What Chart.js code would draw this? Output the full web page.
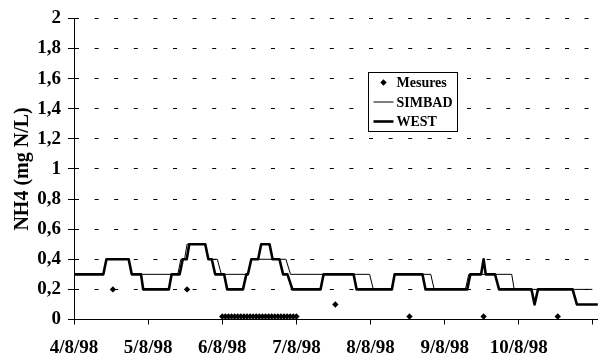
<!DOCTYPE html>
<html>
<head>
<meta charset="utf-8">
<script src="https://cdn.jsdelivr.net/npm/chart.js@4.4.0/dist/chart.umd.min.js"></script>
<style>
  html, body { margin: 0; padding: 0; background: #fff; }
  canvas { display: block; }
</style>
</head>
<body>
<canvas id="nh4" width="605" height="361"></canvas>
<script>
// Time is expressed in hours since 4/8/98 00:00.
const dayTicks = [0, 24, 48, 72, 96, 120, 144, 168];
const dayLabels = ['4/8/98', '5/8/98', '6/8/98', '7/8/98', '8/8/98', '9/8/98', '10/8/98', ''];
const yTickLabels = ['0', '0,2', '0,4', '0,6', '0,8', '1', '1,2', '1,4', '1,6', '1,8', '2'];

// Measured NH4 (mg N/L)
const mesuresHours = [12.6, 36.6,
  48, 49, 50, 51, 52, 53, 54, 55, 56, 57, 58, 59, 60, 61, 62, 63, 64, 65, 66, 67, 68, 69, 70, 71, 72,
  84.6, 108.6, 132.6, 156.6];
const mesuresValues = [0.2, 0.2,
  0.02, 0.02, 0.02, 0.02, 0.02, 0.02, 0.02, 0.02, 0.02, 0.02, 0.02, 0.02, 0.02, 0.02, 0.02, 0.02, 0.02,
  0.02, 0.02, 0.02, 0.02, 0.02, 0.02, 0.02, 0.02,
  0.1, 0.02, 0.02, 0.02];

// SIMBAD simulation (corner points of the stepped curve)
const simbadHours = [0, 9.5, 10.5, 17.7, 18.7, 33.6, 34.6, 35.8, 36.6, 42.5, 43.5, 46.4, 47.7, 56.3,
  57.4, 68.6, 70.1, 95.7, 96.9, 102.9, 103.8, 115.5, 116.6, 126.7, 127.8, 141.7, 142.5, 167.8];
const simbadValues = [0.3, 0.3, 0.4, 0.4, 0.3, 0.3, 0.4, 0.4, 0.5, 0.5, 0.4, 0.4, 0.3, 0.3,
  0.4, 0.4, 0.3, 0.3, 0.2, 0.2, 0.3, 0.3, 0.2, 0.2, 0.3, 0.3, 0.2, 0.2];

// WEST simulation (corner points of the stepped curve)
const westHours = [0, 9.5, 10.5, 17.7, 18.7, 21.7, 22.4, 30.7, 31.6, 34.2, 35.2, 36.5, 37.3, 42.5,
  43.5, 44.6, 45.7, 48.6, 49.6, 54.7, 55.8, 56.3, 57.4, 59.6, 60.6, 63.3, 64.3, 66.5, 67.7, 69.1,
  70.7, 79.8, 80.8, 90.5, 91.5, 102.9, 103.8, 112.8, 113.8, 127.3, 128.3, 131.8, 132.6, 133.3,
  136.3, 137.6, 148.1, 149.1, 150.2, 161.4, 162.8, 169.6];
const westValues = [0.3, 0.3, 0.4, 0.4, 0.3, 0.3, 0.2, 0.2, 0.3, 0.3, 0.4, 0.4, 0.5, 0.5,
  0.4, 0.4, 0.3, 0.3, 0.2, 0.2, 0.3, 0.3, 0.4, 0.4, 0.5, 0.5, 0.4, 0.4, 0.3, 0.3,
  0.2, 0.2, 0.3, 0.3, 0.2, 0.2, 0.3, 0.3, 0.2, 0.2, 0.3, 0.3, 0.4, 0.3,
  0.3, 0.2, 0.2, 0.1, 0.2, 0.2, 0.1, 0.1];

const toPoints = (xs, ys) => xs.map((x, i) => ({ x: x, y: ys[i] }));

const SERIF = "'Liberation Serif', 'Times New Roman', serif";

// Boxed legend drawn inside the plot area
const boxedLegend = {
  id: 'boxedLegend',
  afterDraw(chart) {
    const ctx = chart.ctx;
    const left = 368.5, top = 72.5, w = 89, h = 59;
    ctx.save();
    ctx.fillStyle = '#fff';
    ctx.fillRect(left, top, w, h);
    ctx.strokeStyle = '#000';
    ctx.lineWidth = 1;
    ctx.strokeRect(left, top, w, h);
    ctx.font = 'bold 14px ' + SERIF;
    ctx.textBaseline = 'middle';
    ctx.textAlign = 'left';
    chart.data.datasets.forEach((ds, i) => {
      const y = top + 10 + i * 19.5;
      if (ds.showLine) {
        ctx.strokeStyle = ds.borderColor;
        ctx.lineWidth = ds.borderWidth;
        ctx.beginPath();
        ctx.moveTo(left + 5, y);
        ctx.lineTo(left + 25, y);
        ctx.stroke();
      } else {
        Chart.helpers.drawPoint(ctx, {
          pointStyle: ds.pointStyle, radius: ds.pointRadius, borderWidth: 0
        }, left + 15, y);
        ctx.fillStyle = ds.backgroundColor;
        ctx.fill();
      }
      ctx.fillStyle = '#000';
      ctx.fillText(ds.label, left + 28, y + 1);
    });
    ctx.restore();
  }
};

new Chart(document.getElementById('nh4'), {
  type: 'scatter',
  data: {
    datasets: [
      {
        label: 'Mesures',
        data: toPoints(mesuresHours, mesuresValues),
        showLine: false,
        pointStyle: 'rectRot',
        pointRadius: 3.2,
        pointBorderWidth: 0,
        backgroundColor: '#000',
        borderColor: '#000'
      },
      {
        label: 'SIMBAD',
        data: toPoints(simbadHours, simbadValues),
        showLine: true,
        borderColor: '#000',
        borderWidth: 1,
        borderJoinStyle: 'round',
        pointRadius: 0,
        tension: 0
      },
      {
        label: 'WEST',
        data: toPoints(westHours, westValues),
        showLine: true,
        borderColor: '#000',
        borderWidth: 2.6,
        borderJoinStyle: 'round',
        pointRadius: 0,
        tension: 0
      }
    ]
  },
  options: {
    responsive: false,
    animation: false,
    devicePixelRatio: 1,
    layout: { padding: { left: 0, right: 1, top: 15, bottom: 0 } },
    plugins: {
      legend: { display: false },
      tooltip: { enabled: false }
    },
    scales: {
      x: {
        type: 'linear',
        min: 0,
        max: 169.6,
        afterBuildTicks: (scale) => { scale.ticks = dayTicks.map(v => ({ value: v })); },
        afterFit: (scale) => { scale.height = 41.5; },
        ticks: {
          callback: (v, i) => dayLabels[i],
          autoSkip: false,
          maxRotation: 0,
          color: '#000',
          padding: 12,
          font: { family: SERIF, size: 19, weight: 'bold' }
        },
        grid: {
          drawOnChartArea: false,
          drawTicks: true,
          tickLength: 5,
          tickColor: '#000',
          tickWidth: 1
        },
        border: { display: true, color: '#000', width: 1 }
      },
      y: {
        min: 0,
        max: 2,
        afterBuildTicks: (scale) => { scale.ticks = yTickLabels.map((t, i) => ({ value: i * 0.2 })); },
        afterFit: (scale) => { scale.width = 74; },
        ticks: {
          callback: (v, i) => yTickLabels[i],
          color: '#000',
          padding: 7,
          font: { family: SERIF, size: 19, weight: 'bold' }
        },
        grid: {
          color: '#000',
          lineWidth: 1,
          drawTicks: true,
          tickLength: 6,
          tickColor: '#000',
          tickBorderDash: []
        },
        border: { display: true, color: '#000', width: 1, dash: [4, 15.6] },
        title: {
          display: true,
          text: 'NH4 (mg N/L)',
          color: '#000',
          padding: { top: 11, bottom: 0 },
          font: { family: SERIF, size: 20, weight: 'bold' }
        }
      }
    }
  },
  plugins: [boxedLegend]
});
</script>
</body>
</html>
